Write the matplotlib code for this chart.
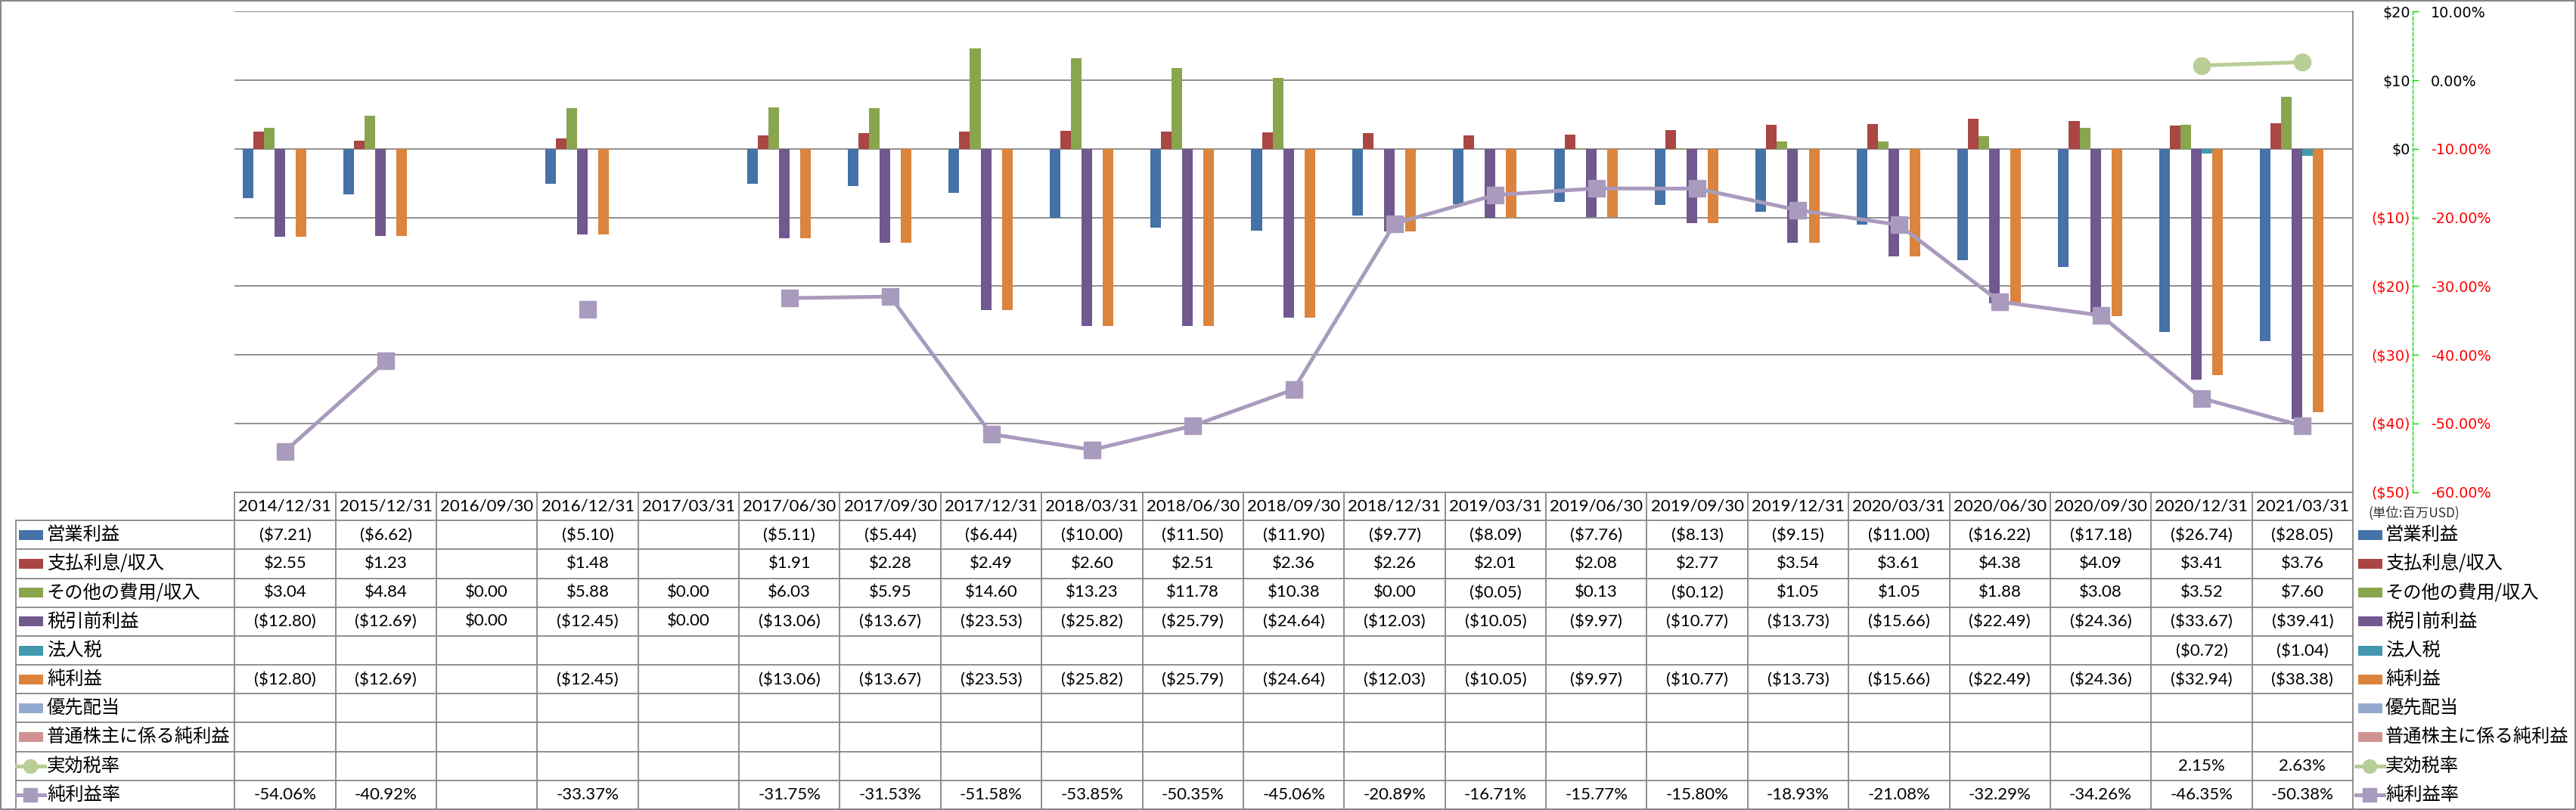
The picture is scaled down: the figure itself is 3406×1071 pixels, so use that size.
import numpy as np
import matplotlib.pyplot as plt
from matplotlib.patches import Rectangle
from matplotlib.lines import Line2D

nan = np.nan

# ---- data (USD millions) ----
dates = ['2014/12/31', '2015/12/31', '2016/09/30', '2016/12/31', '2017/03/31',
         '2017/06/30', '2017/09/30', '2017/12/31', '2018/03/31', '2018/06/30',
         '2018/09/30', '2018/12/31', '2019/03/31', '2019/06/30', '2019/09/30',
         '2019/12/31', '2020/03/31', '2020/06/30', '2020/09/30', '2020/12/31',
         '2021/03/31']

op_income = [-7.21, -6.62, nan, -5.10, nan, -5.11, -5.44, -6.44, -10.00, -11.50,
             -11.90, -9.77, -8.09, -7.76, -8.13, -9.15, -11.00, -16.22, -17.18,
             -26.74, -28.05]
interest = [2.55, 1.23, nan, 1.48, nan, 1.91, 2.28, 2.49, 2.60, 2.51, 2.36, 2.26,
            2.01, 2.08, 2.77, 3.54, 3.61, 4.38, 4.09, 3.41, 3.76]
other_exp = [3.04, 4.84, 0.00, 5.88, 0.00, 6.03, 5.95, 14.60, 13.23, 11.78, 10.38,
             0.00, -0.05, 0.13, -0.12, 1.05, 1.05, 1.88, 3.08, 3.52, 7.60]
pretax = [-12.80, -12.69, 0.00, -12.45, 0.00, -13.06, -13.67, -23.53, -25.82,
          -25.79, -24.64, -12.03, -10.05, -9.97, -10.77, -13.73, -15.66, -22.49,
          -24.36, -33.67, -39.41]
tax = [nan] * 19 + [-0.72, -1.04]
net_income = [-12.80, -12.69, nan, -12.45, nan, -13.06, -13.67, -23.53, -25.82,
              -25.79, -24.64, -12.03, -10.05, -9.97, -10.77, -13.73, -15.66,
              -22.49, -24.36, -32.94, -38.38]
pref_div = [nan] * 21
net_common = [nan] * 21
eff_tax_rate = [nan] * 19 + [2.15, 2.63]          # %
net_margin = [-54.06, -40.92, nan, -33.37, nan, -31.75, -31.53, -51.58, -53.85,
              -50.35, -45.06, -20.89, -16.71, -15.77, -15.80, -18.93, -21.08,
              -32.29, -34.26, -46.35, -50.38]   # %

bar_names = ['営業利益', '支払利息/収入', 'その他の費用/収入', '税引前利益', '法人税',
             '純利益', '優先配当', '普通株主に係る純利益']
bar_data = [op_income, interest, other_exp, pretax, tax, net_income, pref_div, net_common]
bar_colors = ['#4572A7', '#AA4643', '#89A54E', '#71588F', '#4198AF', '#DB843D',
              '#93A9CF', '#D19392']
line_names = ['実効税率', '純利益率']
line_data = [eff_tax_rate, net_margin]
line_colors = ['#B9CD96', '#A99BBD']
line_markers = ['o', 's']

W, H = 3406, 1071
fig = plt.figure(figsize=(W / 100, H / 100), dpi=100)

# layout in pixels
plot_l, plot_r, plot_t, plot_b = 310.3, 3111.0, 15.3, 650.5
head_b = 688.3
row_h = (1070.0 - head_b) / 10
col_w = (plot_r - plot_l) / len(dates)
grid_c = '#878787'
jp = ['Noto Sans CJK JP', 'DejaVu Sans']
num = ['Lato', 'DejaVu Sans']

ax = fig.add_axes([plot_l / W, 1 - plot_b / H, (plot_r - plot_l) / W, (plot_b - plot_t) / H])
ax.set_facecolor('none')
x = np.arange(len(dates))
n = len(bar_data)
bw = 1 / (n + 1.5)
for i, (vals, c) in enumerate(zip(bar_data, bar_colors)):
    ax.bar(x + (i - (n - 1) / 2) * bw, np.array(vals, dtype=float), width=bw,
           color=c, linewidth=0, zorder=3)
ax.set_xlim(-0.5, len(dates) - 0.5)
ax.set_ylim(-50, 20)
ax.set_xticks([])
ax.grid(axis='y', color=grid_c, linewidth=1.3, zorder=0)

# secondary axis for the ratios
ax2 = ax.twinx()
for vals, c, m in zip(line_data, line_colors, line_markers):
    ax2.plot(x, np.array(vals, dtype=float) / 100, color=c, linewidth=3.6,
             marker=m, markersize=16, markerfacecolor=c, markeredgecolor=c,
             zorder=4, solid_capstyle='round')
ax2.set_ylim(-0.6, 0.1)
pt = np.linspace(-0.6, 0.1, 8)
ax2.set_yticks(pt)
ax2.set_yticklabels(['%.2f%%' % (v * 100) for v in pt])
for s in ['left', 'top', 'bottom']:
    ax2.spines[s].set_visible(False)
ax2.spines['right'].set_position(('outward', 56.9))
ax2.spines['right'].set_color('#00DD00')
ax2.spines['right'].set_linestyle((0, (3, 2)))
ax2.spines['right'].set_linewidth(1.0)
ax2.tick_params(axis='y', direction='out', length=5.8, width=1.0, color='#00DD00',
                pad=11.5, labelsize=13.8)
for lbl, v in zip(ax2.get_yticklabels(), pt):
    lbl.set_color('black' if v > -0.05 else '#FF0000')
    lbl.set_family('DejaVu Sans')

# primary dollar labels, also on the right (after twinx, which moves them left)
yt = np.arange(-50, 21, 10)
ax.yaxis.tick_right()
ax.set_yticks(yt)
ax.set_yticklabels(['$%d' % v if v >= 0 else '($%d)' % -v for v in yt])
ax.tick_params(axis='y', which='both', left=False, right=False, labelleft=False,
               labelright=True, length=0, pad=54.7, labelsize=13.8)
for lbl, v in zip(ax.get_yticklabels(), yt):
    lbl.set_ha('right')
    lbl.set_color('black' if v >= 0 else '#FF0000')
    lbl.set_family('DejaVu Sans')
for s in ['left', 'top', 'bottom']:
    ax.spines[s].set_visible(False)
ax.spines['right'].set_color(grid_c)
ax.spines['right'].set_linewidth(1.3)

# ---- data table drawn in pixel coordinates ----
tb = fig.add_axes([0, 0, 1, 1], zorder=5)
tb.set_xlim(0, W)
tb.set_ylim(H, 0)
tb.axis('off')
tb.patch.set_visible(False)

lw = 1.3
tb.plot([plot_l, plot_r], [plot_b, plot_b], color=grid_c, lw=lw)
for r in range(11):
    yy = head_b + r * row_h
    tb.plot([20.7, plot_r], [yy, yy], color=grid_c, lw=lw)
tb.plot([20.7, 20.7], [head_b, 1070], color=grid_c, lw=lw)
for c in range(len(dates) + 1):
    xx = plot_l + c * col_w
    tb.plot([xx, xx], [plot_b, 1070], color=grid_c, lw=lw)

for c, d in enumerate(dates):
    tb.text(plot_l + (c + 0.5) * col_w, (plot_b + head_b) / 2, d, ha='center',
            va='center', fontsize=16, family=num)


def money(v):
    return '($%.2f)' % -v if v < 0 else '$%.2f' % v


rows = [(nm, vals, 'bar', col) for nm, vals, col in zip(bar_names, bar_data, bar_colors)]
rows += [(nm, vals, 'line', col) for nm, vals, col in zip(line_names, line_data, line_colors)]
for r, (nm, vals, kind, col) in enumerate(rows):
    yc = head_b + (r + 0.5) * row_h
    for c, v in enumerate(vals):
        if np.isnan(v):
            continue
        s = money(v) if kind == 'bar' else '%.2f%%' % v
        tb.text(plot_l + (c + 0.5) * col_w, yc, s, ha='center', va='center',
                fontsize=16, family=num)
    # left legend key + right legend key
    for x0, tx in [(25, 62), (3118, 3154)]:
        if kind == 'bar':
            tb.add_patch(Rectangle((x0, yc - 6.5), 32, 13, facecolor=col, edgecolor='none'))
        else:
            mk = line_markers[r - len(bar_names)]
            tb.add_line(Line2D([x0 - 3, x0 + 34], [yc, yc], color=col, lw=3.6))
            tb.add_line(Line2D([x0 + 15], [yc], marker=mk, markersize=13, color=col))
        tb.text(tx, yc, nm, ha='left', va='center', fontsize=17.5, family=jp)

tb.text(3131, 678, '(単位:百万USD)', ha='left', va='center', fontsize=12.5,
        family=jp, color='#333333')
tb.add_patch(Rectangle((0.5, 0.5), W - 1.5, H - 1.5, facecolor='none',
                       edgecolor=grid_c, lw=1.5))

fig.savefig('out.png', dpi=100)
